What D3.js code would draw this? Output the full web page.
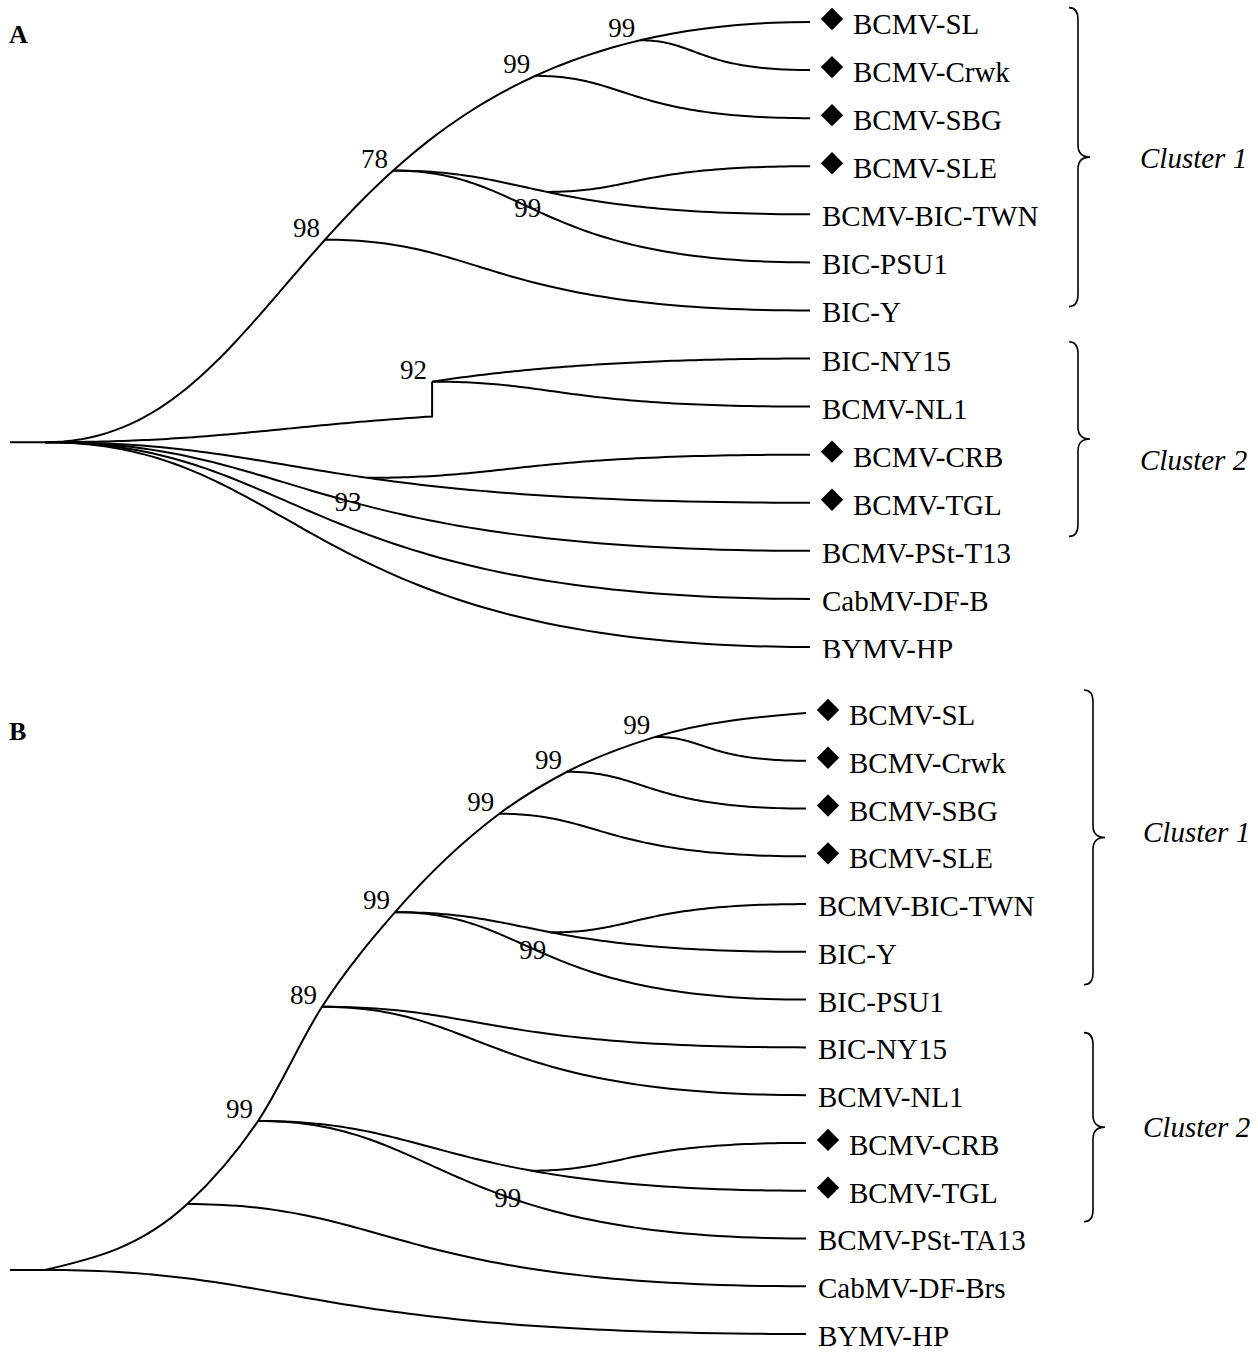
<!DOCTYPE html>
<html>
<head>
<meta charset="utf-8">
<script src="https://cdn.jsdelivr.net/npm/d3@7"></script>
<style>
  body { margin: 0; background: #fff; }
  text { font-family: "Liberation Serif", "Times New Roman", serif; fill: #000; }
</style>
</head>
<body>
<svg id="chart" width="1258" height="1353"></svg>
<script>
// ---- panel A ----
const leavesA = ["BCMV-SL", "BCMV-Crwk", "BCMV-SBG", "BCMV-SLE", "BCMV-BIC-TWN", "BIC-PSU1", "BIC-Y",
  "BIC-NY15", "BCMV-NL1", "BCMV-CRB", "BCMV-TGL", "BCMV-PSt-T13", "CabMV-DF-B", "BYMV-HP"];
const markedA = ["BCMV-SL", "BCMV-Crwk", "BCMV-SBG", "BCMV-SLE", "BCMV-CRB", "BCMV-TGL"];
// internal nodes: id, branch it sits on (from, to leaf), depth, bootstrap
const nodesA = [
  ["n98", "root", "BCMV-SL", 36.6, 98],
  ["n78", "root", "BCMV-SL", 45.5, 78],
  ["n99a", "root", "BCMV-SL", 64.1, 99],
  ["n99b", "root", "BCMV-SL", 77.8, 99],
  ["nTWN", "n78", "BCMV-BIC-TWN", 65.6, null],
  ["n92", "root", "BIC-NY15", 50.6, 92],
  ["nCRB", "root", "BCMV-TGL", 42.1, null]
];
// branches: from, to leaf, start at node, stop at node
const branchesA = [
  ["root", "BCMV-SL"], ["n99b", "BCMV-Crwk"], ["n99a", "BCMV-SBG"], ["nTWN", "BCMV-SLE"],
  ["n78", "BCMV-BIC-TWN"], ["n78", "BIC-PSU1"], ["n98", "BIC-Y"],
  ["root", "BIC-NY15", "n92", null], ["root", "BCMV-NL1", null, "n92"], ["n92", "BCMV-NL1"],
  ["nCRB", "BCMV-CRB"], ["root", "BCMV-TGL"], ["root", "BCMV-PSt-T13"],
  ["root", "CabMV-DF-B"], ["root", "BYMV-HP"]
];
// bootstrap values printed along a branch
const branchLabelsA = [["n78", "BIC-PSU1", 63.1, 99], ["root", "BCMV-PSt-T13", 39.6, 93]];
const clustersA = [["Cluster 1", -0.3, 5.92, 2.83], ["Cluster 2", 6.65, 10.7, 9.1]];
const rootA = 8.74;

// ---- panel B ----
const leavesB = ["BCMV-SL", "BCMV-Crwk", "BCMV-SBG", "BCMV-SLE", "BCMV-BIC-TWN", "BIC-Y", "BIC-PSU1",
  "BIC-NY15", "BCMV-NL1", "BCMV-CRB", "BCMV-TGL", "BCMV-PSt-TA13", "CabMV-DF-Brs", "BYMV-HP"];
const markedB = ["BCMV-SL", "BCMV-Crwk", "BCMV-SBG", "BCMV-SLE", "BCMV-CRB", "BCMV-TGL"];
// backbone nodes leading to BCMV-SL: id, depth, row, bootstrap
const spineB = [
  ["nU", 18.7, 10.28, null],
  ["n99c", 28.0, 8.54, 99],
  ["n89", 36.4, 6.15, 89],
  ["n99d", 46.0, 4.17, 99],
  ["n99e", 59.7, 2.11, 99],
  ["n99f", 68.6, 1.23, 99],
  ["n99g", 80.2, 0.50, 99]
];
const nodesB = [
  ["nTWN", "n99d", "BIC-Y", 66.5, null],
  ["nCRB", "n99c", "BCMV-TGL", 63.9, null]
];
const branchesB = [
  ["n99g", "BCMV-Crwk"], ["n99f", "BCMV-SBG"], ["n99e", "BCMV-SLE"],
  ["nTWN", "BCMV-BIC-TWN"], ["n99d", "BIC-Y"], ["n99d", "BIC-PSU1"],
  ["n89", "BIC-NY15"], ["n89", "BCMV-NL1"], ["nCRB", "BCMV-CRB"], ["n99c", "BCMV-TGL"],
  ["n99c", "BCMV-PSt-TA13"], ["nU", "CabMV-DF-Brs"], ["root", "BYMV-HP"]
];
const branchLabelsB = [["n99d", "BIC-PSU1", 64.1, 99], ["n99c", "BCMV-PSt-TA13", 60.8, 99]];
const clustersB = [["Cluster 1", -0.48, 5.69, 2.5], ["Cluster 2", 6.69, 10.65, 8.66]];
const rootB = 11.66;

const svg = d3.select("#chart");

// curved branch: cubic bezier leaving and entering horizontally
const K = 1 / 3;
function bez(p, q) {
  const cx = p[0] + K * (q[0] - p[0]);
  return [p, [cx, p[1]], [cx, q[1]], q];
}
function at(b, t) {
  const u = 1 - t, w = [u * u * u, 3 * u * u * t, 3 * u * t * t, t * t * t];
  return [0, 1].map(k => w[0] * b[0][k] + w[1] * b[1][k] + w[2] * b[2][k] + w[3] * b[3][k]);
}
function tAtX(b, x) {
  let lo = 0, hi = 1;
  for (let i = 0; i < 40; i++) {
    const m = (lo + hi) / 2;
    if (at(b, m)[0] < x) lo = m; else hi = m;
  }
  return (lo + hi) / 2;
}
const line = d3.line();

function drawPanel(p) {
  const x = d3.scaleLinear().domain([0, 100]).range(p.xRange);
  const y = d3.scaleLinear().domain([0, p.leaves.length - 1]).range(p.yRange);
  const g = svg.append("g").attr("clip-path", `url(#${p.clip})`);
  svg.append("clipPath").attr("id", p.clip)
    .append("rect").attr("x", 0).attr("y", p.clipY[0]).attr("width", 1258).attr("height", p.clipY[1] - p.clipY[0]);

  const pos = new Map();
  pos.set("root", [x(0), y(p.root)]);
  p.leaves.forEach((n, i) => pos.set(n, [x(100), y(i)]));
  const spine = p.spine || [];
  spine.forEach(([id, d, r]) => pos.set(id, [x(d), y(r)]));
  p.nodes.forEach(([id, from, leaf, d]) => {
    const b = bez(pos.get(from), pos.get(leaf));
    pos.set(id, at(b, tAtX(b, x(d))));
  });

  // root stub
  g.append("line")
    .attr("x1", x(0) - 35).attr("x2", x(0))
    .attr("y1", y(p.root)).attr("y2", y(p.root))
    .attr("stroke", "#000").attr("stroke-width", 2);

  // backbone drawn smoothly through its nodes
  if (spine.length) {
    g.append("path")
      .attr("fill", "none").attr("stroke", "#000").attr("stroke-width", 2)
      .attr("d", d3.line().curve(d3.curveMonotoneX)(
        [pos.get("root"), ...spine.map(d => pos.get(d[0])), pos.get(p.leaves[0])]));
  }

  g.selectAll("path.branch").data(p.branches).join("path")
    .attr("class", "branch")
    .attr("fill", "none").attr("stroke", "#000").attr("stroke-width", 2)
    .attr("d", ([from, leaf, startAt, stopAt]) => {
      const b = bez(pos.get(from), pos.get(leaf));
      const t0 = startAt ? tAtX(b, pos.get(startAt)[0]) : 0;
      const t1 = stopAt ? tAtX(b, pos.get(stopAt)[0]) : 1;
      const pts = d3.range(81).map(i => at(b, t0 + (t1 - t0) * i / 80));
      if (stopAt) pts.push(pos.get(stopAt));
      return line(pts);
    });

  // bootstrap at nodes
  const boots = spine.map(d => [d[0], d[3]]).concat(p.nodes.map(d => [d[0], d[4]]))
    .filter(d => d[1] != null);
  g.selectAll("text.boot").data(boots).join("text")
    .attr("class", "boot")
    .attr("x", d => pos.get(d[0])[0] - 5)
    .attr("y", d => pos.get(d[0])[1] - 3)
    .attr("text-anchor", "end")
    .attr("font-size", 27)
    .text(d => d[1]);

  // bootstrap along branches
  g.selectAll("text.bboot").data(p.branchLabels).join("text")
    .attr("class", "bboot")
    .attr("x", ([from, leaf, d]) => x(d))
    .attr("y", ([from, leaf, d]) => {
      const b = bez(pos.get(from), pos.get(leaf));
      return at(b, tAtX(b, x(d)))[1] + 10;
    })
    .attr("text-anchor", "middle")
    .attr("font-size", 27)
    .text(d => d[3]);

  // leaves
  const leaf = g.selectAll("g.leaf").data(p.leaves).join("g")
    .attr("class", "leaf")
    .attr("transform", (d, i) => `translate(${x(100)},${y(i)})`);
  leaf.filter(d => p.marked.includes(d)).append("path")
    .attr("d", d3.symbol(d3.symbolSquare, 250))
    .attr("transform", "translate(22,-3) rotate(45)")
    .attr("fill", "#000");
  leaf.append("text")
    .attr("x", d => p.marked.includes(d) ? 43 : 12)
    .attr("y", 12)
    .attr("font-size", 29)
    .text(d => d);

  // clusters with braces
  const c = g.selectAll("g.cluster").data(p.clusters).join("g").attr("class", "cluster");
  c.append("path")
    .attr("fill", "none").attr("stroke", "#000").attr("stroke-width", 1.6)
    .attr("d", ([name, i0, i1]) => {
      const bx = p.braceX, y0 = y(i0), y1 = y(i1), ym = (y0 + y1) / 2, r = 12;
      return `M${bx - 9},${y0} Q${bx},${y0} ${bx},${y0 + r} L${bx},${ym - r} Q${bx},${ym} ${bx + 12},${ym}` +
        ` Q${bx},${ym} ${bx},${ym + r} L${bx},${y1 - r} Q${bx},${y1} ${bx - 9},${y1}`;
    });
  c.append("text")
    .attr("x", p.clusterX)
    .attr("y", d => y(d[3]) + 10)
    .attr("font-size", 29)
    .attr("font-style", "italic")
    .text(d => d[0]);

  g.append("text")
    .attr("x", 9).attr("y", p.titleY)
    .attr("font-size", 26).attr("font-weight", "bold")
    .text(p.title);
}

drawPanel({ title: "A", leaves: leavesA, marked: markedA, nodes: nodesA, branches: branchesA,
  branchLabels: branchLabelsA, clusters: clustersA, root: rootA, clip: "clipA", clipY: [0, 658],
  xRange: [45, 810], yRange: [22, 647], braceX: 1078, clusterX: 1140, titleY: 43 });
drawPanel({ title: "B", leaves: leavesB, marked: markedB, nodes: nodesB, branches: branchesB,
  branchLabels: branchLabelsB, clusters: clustersB, root: rootB, spine: spineB, clip: "clipB", clipY: [660, 1353],
  xRange: [45, 806], yRange: [713, 1334], braceX: 1093, clusterX: 1143, titleY: 740 });
</script>
</body>
</html>
